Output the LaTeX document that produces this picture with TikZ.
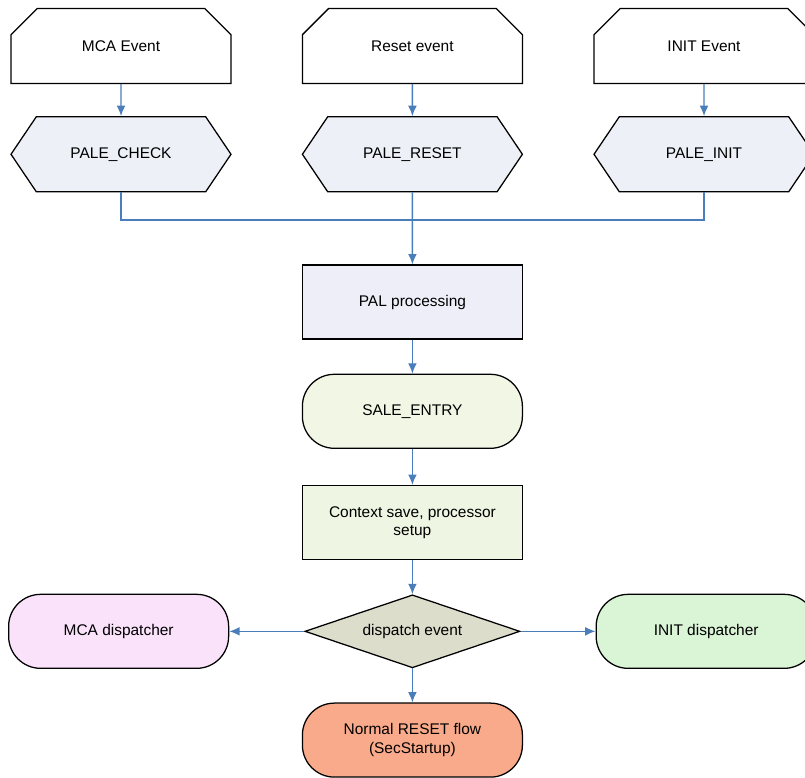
\documentclass[tikz,border=0pt]{standalone}
\usepackage{fontspec}
\setmainfont{Liberation Sans}
\usepackage{tikz}
\usetikzlibrary{positioning}
\usetikzlibrary{shapes.misc}
\usetikzlibrary{shapes.symbols}
\usetikzlibrary{shapes.geometric}
\usetikzlibrary{arrows.meta}

\definecolor{arrowblue}{HTML}{4A7EBB}
\definecolor{hexfill}{HTML}{EEF0F8}
\definecolor{palfill}{HTML}{EEEEF8}
\definecolor{salefill}{HTML}{F1F6E5}
\definecolor{ctxfill}{HTML}{EEF5E2}
\definecolor{dispfill}{HTML}{DCDDCB}
\definecolor{mcafill}{HTML}{FBE2FB}
\definecolor{initfill}{HTML}{DAF4D6}
\definecolor{rstfill}{HTML}{F8AA8A}

\begin{document}
\begin{tikzpicture}[
		every node/.style = {font=\fontsize{11}{13}\selectfont, line width=0.9pt, inner sep=2pt},
		eventbox/.style = {draw, fill=white, chamfered rectangle, chamfered rectangle corners={north west,north east}, chamfered rectangle xsep=0.5cm, chamfered rectangle ysep=0.45cm, minimum width=5.5cm, minimum height=1.875cm},
		hexbox/.style = {draw, fill=hexfill, signal, signal to=west and east, signal pointer angle=112, minimum width=5.5cm, minimum height=1.875cm},
		procbox/.style = {draw, rectangle, minimum width=5.5cm, minimum height=1.85cm, align=center},
		termbox/.style = {draw, rectangle, rounded corners=0.8cm, minimum width=5.5cm, minimum height=1.85cm, align=center},
		flow/.style = {arrowblue, line width=1pt, -{Latex[length=2.6mm,width=2.2mm]}},
		plain/.style = {arrowblue, line width=1pt, -}
	]
	\useasboundingbox (0,0) rectangle (20.125,-19.425);

	% event sources
	\node[eventbox] at (3.025,-1.15) (mcaev) {MCA Event};
	\node[eventbox] at (10.31,-1.15) (rstev) {Reset event};
	\node[eventbox] at (17.6,-1.15) (initev) {INIT Event};

	\node[hexbox, below = 0.8cm of mcaev] (pcheck) {PALE\_CHECK};
	\node[hexbox, below = 0.8cm of rstev] (preset) {PALE\_RESET};
	\node[hexbox, below = 0.8cm of initev] (pinit) {PALE\_INIT};

	\node[procbox, fill=palfill, below = 1.8cm of preset] (pal) {PAL processing};
	\node[termbox, fill=salefill, below = 0.85cm of pal] (sale) {SALE\_ENTRY};
	\node[procbox, fill=ctxfill, below = 0.9cm of sale] (ctx) {Context save, processor\\setup};

	\node[draw, diamond, aspect=2.95, fill=dispfill, minimum width=5.375cm, minimum height=1.825cm, inner sep=0pt, below = 0.85cm of ctx] (disp) {dispatch event};

	\node[termbox, fill=mcafill, left = 1.875cm of disp] (mcad) {MCA dispatcher};
	\node[termbox, fill=initfill, right = 1.875cm of disp] (initd) {INIT dispatcher};
	\node[termbox, fill=rstfill, below = 0.85cm of disp] (rstflow) {Normal RESET flow\\(SecStartup)};

	\coordinate (merge) at (preset.south |- 0,-5.5);

	\draw[flow] (mcaev) -- (pcheck);
	\draw[flow] (rstev) -- (preset);
	\draw[flow] (initev) -- (pinit);
	\draw[plain] (pcheck) |- (merge) -| (pinit);
	\draw[flow] (preset) -- (pal);
	\draw[flow] (pal) -- (sale);
	\draw[flow] (sale) -- (ctx);
	\draw[flow] (ctx) -- (disp);
	\draw[flow] (disp) -- (mcad);
	\draw[flow] (disp) -- (initd);
	\draw[flow] (disp) -- (rstflow);
\end{tikzpicture}
\end{document}
